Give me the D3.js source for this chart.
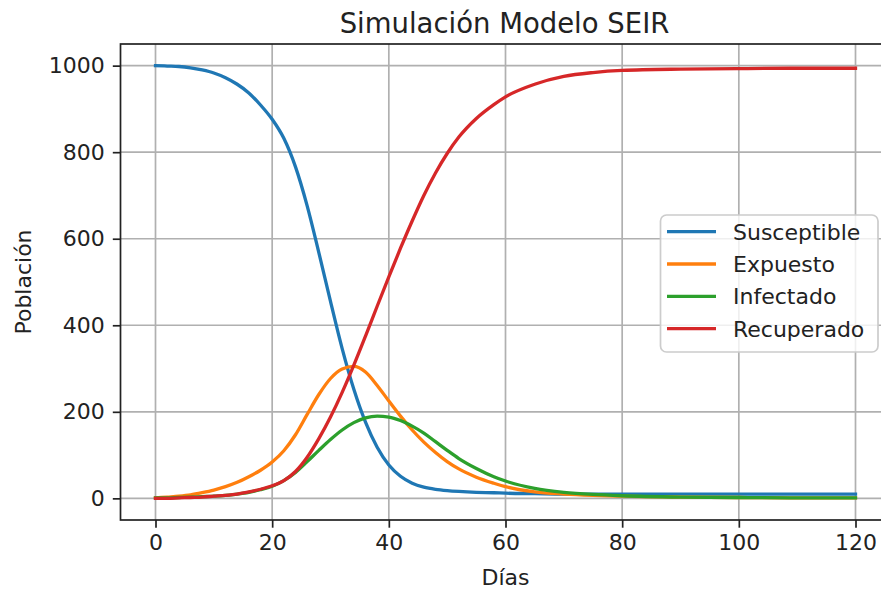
<!DOCTYPE html>
<html lang="es">
<head>
<meta charset="UTF-8">
<title>Simulación Modelo SEIR</title>
<script src="https://d3js.org/d3.v7.min.js"></script>
<style>
  body { margin: 0; background: #fff; }
  svg { display: block; font-family: "DejaVu Sans", sans-serif; }
  .tick text { font-size: 22px; fill: #222; }
</style>
</head>
<body>
<div id="chart"></div>
<script>
// values
const dias = [0, 2, 4, 6, 8, 10, 12, 14, 16, 18, 20, 22, 24, 26, 28, 30, 32, 34, 36, 38, 40, 42, 44, 46, 48, 50, 52, 55, 58, 60, 65, 70, 75, 80, 90, 100, 110, 120];
const susceptible = [1000, 999, 998, 995, 990, 983, 972, 957, 937, 909, 876, 832, 766, 676, 568, 455, 346, 252, 176, 118, 77, 51, 35, 26, 21, 18, 16, 14, 13, 12, 11, 10, 10, 10, 10, 10, 10, 10];
const expuesto = [1, 3, 5, 8, 13, 19, 27, 37, 50, 65, 84, 110, 147, 194, 240, 277, 299, 305, 292, 261, 225, 190, 158, 130, 106, 85, 68, 49, 35, 27, 15, 10, 7, 5, 3, 2, 1, 1];
const infectado = [1, 1, 2, 3, 4, 5, 7, 10, 14, 20, 28, 41, 60, 85, 111, 136, 158, 175, 186, 190, 188, 180, 167, 151, 131, 111, 92, 69, 50, 40, 23, 14, 9, 6, 3, 2, 1, 1];
const recuperado = [0, 0, 1, 2, 3, 5, 7, 10, 15, 21, 29, 41, 62, 95, 138, 188, 245, 308, 375, 444, 512, 578, 641, 700, 752, 797, 835, 878, 910, 928, 957, 975, 984, 989, 992, 993, 994, 994];

const seriesNames = ["Susceptible", "Expuesto", "Infectado", "Recuperado"];
const seriesColors = ["#1f77b4", "#ff7f0e", "#2ca02c", "#d62728"];
const seriesValues = [susceptible, expuesto, infectado, recuperado];

const xTicks = [0, 20, 40, 60, 80, 100, 120];
const yTicks = [0, 200, 400, 600, 800, 1000];

const W = 881, H = 592;
const mLeft = 120.5, mRight = 890.5, mTop = 44, mBottom = 520;

const svg = d3.select("#chart").append("svg")
  .attr("width", W)
  .attr("height", H);

const x = d3.scaleLinear().domain([-6, 126]).range([mLeft, mRight]);
const y = d3.scaleLinear().domain([-50, 1050]).range([mBottom, mTop]);

// grid
const grid = svg.append("g").attr("stroke", "#b0b0b0").attr("stroke-width", 1.7);
grid.selectAll(".gx").data(xTicks).enter().append("line")
  .attr("x1", d => x(d)).attr("x2", d => x(d))
  .attr("y1", mTop).attr("y2", mBottom);
grid.selectAll(".gy").data(yTicks).enter().append("line")
  .attr("x1", mLeft).attr("x2", mRight)
  .attr("y1", d => y(d)).attr("y2", d => y(d));

// lines
const line = d3.line()
  .x((d, i) => x(dias[i]))
  .y(d => y(d))
  .curve(d3.curveMonotoneX);

svg.append("g").selectAll("path")
  .data(seriesValues)
  .enter().append("path")
  .attr("d", d => line(d))
  .attr("fill", "none")
  .attr("stroke", (d, i) => seriesColors[i])
  .attr("stroke-width", 3.3)
  .attr("stroke-linejoin", "round")
  .attr("stroke-linecap", "square");

// axes
const xAxis = svg.append("g")
  .attr("transform", `translate(0,${mBottom})`)
  .call(d3.axisBottom(x).tickValues(xTicks).tickFormat(d3.format("d")).tickSize(7.7).tickPadding(7));
const yAxis = svg.append("g")
  .attr("transform", `translate(${mLeft},0)`)
  .call(d3.axisLeft(y).tickValues(yTicks).tickFormat(d3.format("d")).tickSize(7.7).tickPadding(8));

[xAxis, yAxis].forEach(a => {
  a.select(".domain").remove();
  a.selectAll(".tick line").attr("stroke", "#222").attr("stroke-width", 1.7);
  a.selectAll(".tick text").attr("font-family", "DejaVu Sans");
});

// spines
svg.append("rect")
  .attr("x", mLeft).attr("y", mTop)
  .attr("width", mRight - mLeft).attr("height", mBottom - mTop)
  .attr("fill", "none")
  .attr("stroke", "#222")
  .attr("stroke-width", 1.7);

// labels
svg.append("text")
  .attr("x", (mLeft + mRight) / 2 - 1).attr("y", 33)
  .attr("text-anchor", "middle")
  .attr("font-size", 27.5)
  .attr("fill", "#222")
  .text("Simulación Modelo SEIR");

svg.append("text")
  .attr("x", (mLeft + mRight) / 2).attr("y", 585)
  .attr("text-anchor", "middle")
  .attr("font-size", 22)
  .attr("fill", "#222")
  .text("Días");

svg.append("text")
  .attr("transform", "translate(31,282) rotate(-90)")
  .attr("text-anchor", "middle")
  .attr("font-size", 22)
  .attr("fill", "#222")
  .text("Población");

// legend
const legend = svg.append("g");
legend.append("rect")
  .attr("x", 660.5).attr("y", 215)
  .attr("width", 217.5).attr("height", 137)
  .attr("rx", 6)
  .attr("fill", "#fff").attr("fill-opacity", 0.8)
  .attr("stroke", "#cccccc").attr("stroke-width", 1.7);

const items = legend.selectAll(".item")
  .data(seriesNames)
  .enter().append("g")
  .attr("transform", (d, i) => `translate(0,${231.7 + i * 32.3})`);
items.append("line")
  .attr("x1", 667).attr("x2", 716)
  .attr("stroke", (d, i) => seriesColors[i])
  .attr("stroke-width", 3.3);
items.append("text")
  .attr("x", 733).attr("y", 8)
  .attr("font-size", 22)
  .attr("fill", "#222")
  .text(d => d);
</script>
</body>
</html>
